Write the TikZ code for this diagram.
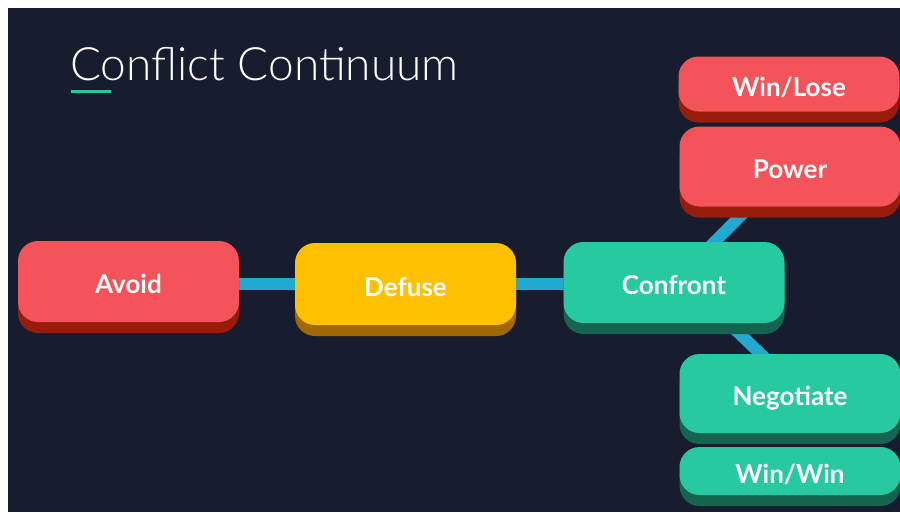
\documentclass[tikz,border=0pt]{standalone}
\usepackage{fontspec}
\setmainfont{Lato}
\newfontfamily\titlefont{Lato}[UprightFont={* Light}]
\usetikzlibrary{shadows,backgrounds}

\definecolor{bgdark}{HTML}{171C2E}
\definecolor{linkblue}{HTML}{22A9CF}
\definecolor{redface}{HTML}{F5535A}
\definecolor{redside}{HTML}{981C0C}
\definecolor{yellowface}{HTML}{FFC000}
\definecolor{yellowside}{HTML}{A26800}
\definecolor{tealface}{HTML}{26C9A0}
\definecolor{tealside}{HTML}{156450}

\tikzset{
  block/.style n args={2}{
    rectangle, rounded corners=20pt, fill=#1, draw=none,
    text=white, font=\fontsize{26}{30}\selectfont\bfseries,
    inner sep=0pt, minimum width=221pt, text height=24pt, text depth=0pt,
    drop shadow={shadow xshift=0pt, shadow yshift=-11pt, fill=#2, opacity=1}
  },
  redblock/.style={block={redface}{redside}},
  yellowblock/.style={block={yellowface}{yellowside}},
  tealblock/.style={block={tealface}{tealside}},
  link/.style={draw=linkblue, line width=12pt}
}

\begin{document}
\begin{tikzpicture}[x=1pt, y=-1pt]
  \useasboundingbox (0,0) rectangle (900,512);

  % title and its accent bar
  \node[anchor=base west, inner sep=0pt, text=white,
        font=\titlefont\fontsize{46}{52}\selectfont] (title) at (70,80) {Conflict Continuum};
  \coordinate (barL) at (71,91.5);
  \coordinate (barR) at (111,91.5);
  \draw[tealface, line width=3pt] (barL) -- (barR);

  % main chain
  \node[redblock, minimum height=81pt]    (avoid)    at (128.5,281.5) {Avoid};
  \node[yellowblock, minimum height=82pt] (defuse)   at (405.5,284)   {Defuse};
  \node[tealblock, minimum height=81pt]   (confront) at (674,282.5)   {Confront};

  % branches
  \node[redblock, minimum height=55pt]  (winlose)   at (789,84)     {Win/Lose};
  \node[redblock, minimum height=80pt]  (power)     at (790,166.5)  {Power};
  \node[tealblock, minimum height=79pt] (negotiate) at (790,393.5)  {Negotiate};
  \node[tealblock, minimum height=48pt] (winwin)    at (790,471)    {Win/Win};

  \begin{scope}[on background layer]
    \fill[white] (0,0) rectangle (900,512);
    \fill[bgdark] (8,8) rectangle (900,512);
    \draw[link] (avoid.center |- defuse.center) -- (defuse.center);
    \draw[link] (defuse.center) -- (confront.center |- defuse.center);
    \draw[link] (confront.center) -- (power.center);
    \draw[link] ([xshift=12pt]confront.center) -- ([xshift=12pt]negotiate.center);
  \end{scope}
\end{tikzpicture}
\end{document}
